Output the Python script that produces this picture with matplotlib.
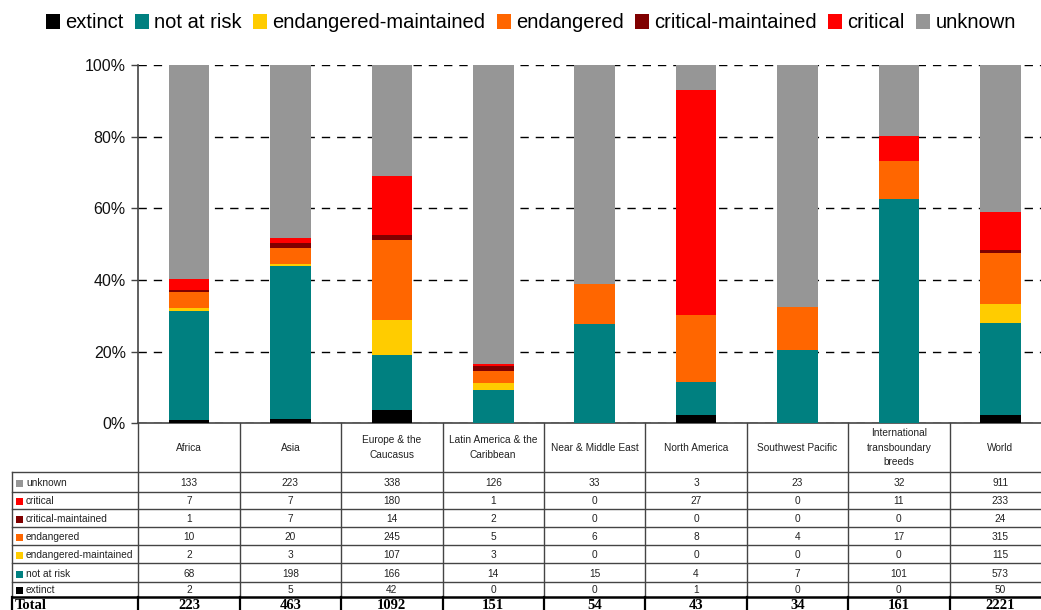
"""
Breed risk status by region: 100% stacked bars with a data table underneath.
"""

import matplotlib
matplotlib.use("Agg")
import matplotlib.pyplot as plt
from matplotlib.patches import Patch, Rectangle
from matplotlib.transforms import blended_transform_factory

# ==============================
# DATA
# ==============================
REGIONS = ["Africa", "Asia", "Europe & the\nCaucasus", "Latin America & the\nCaribbean",
           "Near & Middle East", "North America", "Southwest Pacific",
           "International\ntransboundary\nbreeds", "World"]

EXTINCT = [2, 5, 42, 0, 0, 1, 0, 0, 50]
NOT_AT_RISK = [68, 198, 166, 14, 15, 4, 7, 101, 573]
ENDANGERED_MAINTAINED = [2, 3, 107, 3, 0, 0, 0, 0, 115]
ENDANGERED = [10, 20, 245, 5, 6, 8, 4, 17, 315]
CRITICAL_MAINTAINED = [1, 7, 14, 2, 0, 0, 0, 0, 24]
CRITICAL = [7, 7, 180, 1, 0, 27, 0, 11, 233]
UNKNOWN = [133, 223, 338, 126, 33, 3, 23, 32, 911]
TOTAL = [223, 463, 1092, 151, 54, 43, 34, 161, 2221]

# stacking order (bottom to top)
SERIES = [
    ("extinct", EXTINCT, "#000000"),
    ("not at risk", NOT_AT_RISK, "#008080"),
    ("endangered-maintained", ENDANGERED_MAINTAINED, "#FFCC00"),
    ("endangered", ENDANGERED, "#FF6600"),
    ("critical-maintained", CRITICAL_MAINTAINED, "#800000"),
    ("critical", CRITICAL, "#FF0000"),
    ("unknown", UNKNOWN, "#969696"),
]

Y_TICKS = [0, 20, 40, 60, 80, 100]

# ==============================
# LAYOUT (pixels)
# ==============================
W, H = 1041, 610
AX_LEFT, AX_RIGHT = 138.3, 1051.0
AX_TOP, AX_BOTTOM = 65.0, 423.3
LABEL_COL_LEFT = 12
HEADER_BOTTOM = 472
ROW_LINES = [472, 491.5, 509.3, 527.3, 545.3, 563.3, 582, 596.5, 610]
LINE_COLOR = "#444444"

plt.rcParams["font.family"] = ["Liberation Sans", "DejaVu Sans"]

fig = plt.figure(figsize=(W / 100, H / 100), dpi=100)
ax = fig.add_axes([AX_LEFT / W, (H - AX_BOTTOM) / H,
                   (AX_RIGHT - AX_LEFT) / W, (AX_BOTTOM - AX_TOP) / H])

x = list(range(len(REGIONS)))
bottom = [0.0] * len(REGIONS)
for name, values, color in SERIES:
    pct = [100.0 * v / t for v, t in zip(values, TOTAL)]
    ax.bar(x, pct, width=0.4, bottom=bottom, color=color, zorder=3, linewidth=0)
    bottom = [b + p for b, p in zip(bottom, pct)]

ax.set_xlim(-0.5, len(REGIONS) - 0.5)
ax.set_ylim(0, 100)
ax.set_yticks(Y_TICKS)
ax.set_yticklabels([f"{t}%" for t in Y_TICKS], fontsize=11.5, color="#111111")
ax.set_xticks([])
ax.yaxis.grid(True, color="#000000", linestyle=(0, (6, 5)), linewidth=1.0, zorder=0)
ax.tick_params(axis="y", length=5, width=1, color=LINE_COLOR, pad=4)
for side in ("top", "right"):
    ax.spines[side].set_visible(False)
for side in ("left", "bottom"):
    ax.spines[side].set_color(LINE_COLOR)
    ax.spines[side].set_linewidth(1.2)

# ==============================
# DATA TABLE
# ==============================
trans = blended_transform_factory(ax.transData, fig.transFigure)
px_per_cat = (AX_RIGHT - AX_LEFT) / len(REGIONS)
label_left = -0.5 - (AX_LEFT - LABEL_COL_LEFT) / px_per_cat


def fy(ypx):
    return 1 - ypx / H


def hline(x0, x1, ypx, lw=1.0, color=LINE_COLOR):
    fig.add_artist(plt.Line2D([x0, x1], [fy(ypx), fy(ypx)], transform=trans,
                              color=color, linewidth=lw, clip_on=False))


def vline(xd, y0, y1, lw=1.0, color=LINE_COLOR):
    fig.add_artist(plt.Line2D([xd, xd], [fy(y0), fy(y1)], transform=trans,
                              color=color, linewidth=lw, clip_on=False))


# header: category names
for i, region in enumerate(REGIONS):
    fig.text(i, fy((AX_BOTTOM + HEADER_BOTTOM) / 2), region, transform=trans,
             ha="center", va="center", fontsize=7.3, color="#222222",
             linespacing=1.6)

# vertical lines
for i in range(len(REGIONS) + 1):
    xb = i - 0.5
    vline(xb, AX_BOTTOM, ROW_LINES[-2])
    vline(xb, ROW_LINES[-2], ROW_LINES[-1], lw=1.6, color="#000000")
vline(label_left, ROW_LINES[0], ROW_LINES[-2])
vline(label_left, ROW_LINES[-2], ROW_LINES[-1], lw=1.6, color="#000000")

# horizontal lines
for ypx in ROW_LINES[:-2]:
    hline(label_left, len(REGIONS) - 0.5, ypx)
hline(label_left, len(REGIONS) - 0.5, ROW_LINES[-2], lw=1.8, color="#000000")

# table rows (top to bottom: reverse stacking order)
table_rows = list(reversed(SERIES))
for r, (name, values, color) in enumerate(table_rows):
    y0, y1 = ROW_LINES[r], ROW_LINES[r + 1]
    yc = (y0 + y1) / 2 + 1
    sq = 7 / px_per_cat
    sq_x = label_left + 4 / px_per_cat
    fig.add_artist(Rectangle((sq_x, fy(yc + 4)), sq, 7 / H, transform=trans,
                             facecolor=color, edgecolor="none", clip_on=False))
    fig.text(sq_x + 10 / px_per_cat, fy(yc), name, transform=trans,
             ha="left", va="center", fontsize=7.3, color="#222222")
    for i, v in enumerate(values):
        fig.text(i, fy(yc), str(v), transform=trans, ha="center", va="center",
                 fontsize=7.3, color="#222222")

# total row
yc = (ROW_LINES[-2] + ROW_LINES[-1]) / 2 + 2
fig.text(label_left + 3 / px_per_cat, fy(yc), "Total", transform=trans,
         ha="left", va="center", fontsize=10.5, fontweight="bold",
         family=["Liberation Serif", "DejaVu Serif"])
for i, t in enumerate(TOTAL):
    fig.text(i, fy(yc), str(t), transform=trans, ha="center", va="center",
             fontsize=10.5, fontweight="bold", family=["Liberation Serif", "DejaVu Serif"])

# ==============================
# LEGEND
# ==============================
handles = [Patch(facecolor=c, edgecolor="none", label=n) for n, _, c in SERIES]
fig.legend(handles=handles, loc="center", bbox_to_anchor=(0.51, 1 - 23 / H), ncol=7,
           frameon=False, fontsize=14.5, handlelength=0.7, handleheight=0.7,
           handletextpad=0.25, columnspacing=0.57, borderaxespad=0)

fig.savefig("out.png", dpi=100)
